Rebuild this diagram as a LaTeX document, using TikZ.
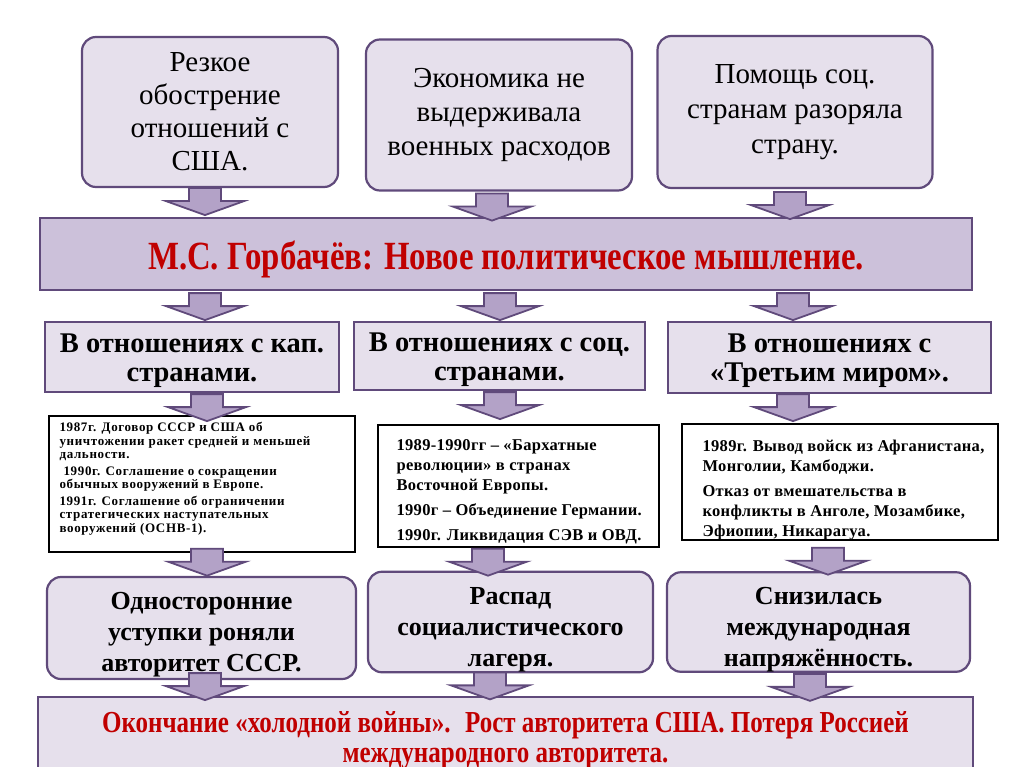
\documentclass[tikz,border=0pt]{standalone}
\usepackage{fontspec}
\setmainfont{Liberation Serif}
\newfontfamily\narrowfont[FakeStretch=0.82]{Liberation Serif Bold}
\usepackage{tikz}
\usetikzlibrary{calc}
\usepackage{xcolor}
\definecolor{plum}{HTML}{604A7B}
\definecolor{lilac}{HTML}{E6E0EC}
\definecolor{lilacdark}{HTML}{CCC1DA}
\definecolor{arrowfill}{HTML}{B3A2C7}
\definecolor{darkred}{HTML}{C00000}
% block arrow under a node: node, x, y offset
\newcommand{\blockarr}[3]{\draw[arr] ($(#2,0 |- #1.south)+(-16,#3)$) -- ++(0,13) -- ++(-23,0) -- ++(39,14) -- ++(39,-14) -- ++(-23,0) -- ++(0,-13) -- cycle;}

\begin{document}
\begin{tikzpicture}[x=1pt,y=-1pt,
  cause/.style={draw=plum,line width=2.2pt,fill=lilac,rounded corners=14pt,inner sep=0pt,align=center},
  frame/.style={draw=plum,line width=2.2pt,fill=lilac,inner sep=0pt,align=center},
  factbox/.style={draw=black,line width=1.3pt,fill=white,inner sep=0pt},
  facts/.style={inner sep=0pt,align=left,font=\bfseries},
  arr/.style={draw=plum,line width=1.8pt,fill=arrowfill,line join=miter}]
\useasboundingbox (0,0) rectangle (1024,767);
\fill[white] (0,0) rectangle (1024,767);

\node[cause,minimum width=256,minimum height=150,font=\fontsize{29}{33}\selectfont] (usa) at (210,112) {Резкое\\обострение\\отношений с\\США.};
\node[cause,minimum width=266,minimum height=151,font=\fontsize{29}{34}\selectfont] (econ) at (499,115) {Экономика не\\выдерживала\\военных расходов};
\node[cause,minimum width=275,minimum height=152,font=\fontsize{29}{35}\selectfont] (aid) at (795,112) {Помощь соц.\\странам разоряла\\страну.};

\node[frame,fill=lilacdark,minimum width=932,minimum height=72,text=darkred,font=\narrowfont\fontsize{40}{40}\selectfont] (gorb) at (506,254)
  {\raisebox{-5pt}[\height][\depth]{М.С. Горбачёв: Новое политическое мышление.}};

\node[frame,minimum width=294,minimum height=70,font=\bfseries\fontsize{28.5}{29}\selectfont] (west) at (192,357) {\rule{0pt}{26pt}В отношениях с кап.\\странами.};
\node[frame,minimum width=291,minimum height=68,font=\bfseries\fontsize{28.5}{29}\selectfont] (east) at (499.5,356) {\rule{0pt}{26pt}В отношениях с соц.\\странами.};
\node[frame,minimum width=323,minimum height=71,font=\bfseries\fontsize{28.5}{29}\selectfont] (third) at (829.5,357.5) {\rule{0pt}{26pt}В отношениях с\\«Третьим миром».};

\node[factbox,minimum width=306,minimum height=136] (westbox) at (202,484) {};
\node[facts,anchor=north west,font=\bfseries\fontsize{13}{13.5}\selectfont\addfontfeatures{LetterSpace=5}] (westfacts) at ($(westbox.north west)+(11,7)$)
  {1987г. Договор СССР и США об\\уничтожении ракет средней и меньшей\\дальности.\\[3pt]\hspace{4pt}1990г. Соглашение о сокращении\\обычных вооружений в Европе.\\[3pt]1991г. Соглашение об ограничении\\стратегических наступательных\\вооружений (ОСНВ-1).};
\node[factbox,minimum width=281,minimum height=122] (eastbox) at (518.5,486) {};
\node[facts,anchor=north west,font=\bfseries\fontsize{16.5}{20}\selectfont\addfontfeatures{LetterSpace=2}] (eastfacts) at ($(eastbox.north west)+(19,15)$)
  {1989-1990гг – «Бархатные\\революции» в странах\\Восточной Европы.\\[5pt]1990г – Объединение Германии.\\[5pt]1990г. Ликвидация СЭВ и ОВД.};
\node[factbox,minimum width=316,minimum height=116] (thirdbox) at (840,482) {};
\node[facts,anchor=north west,font=\bfseries\fontsize{16.5}{20}\selectfont\addfontfeatures{LetterSpace=2}] (thirdfacts) at ($(thirdbox.north west)+(21,16)$)
  {1989г. Вывод войск из Афганистана,\\Монголии, Камбоджи.\\[5pt]Отказ от вмешательства в\\конфликты в Анголе, Мозамбике,\\Эфиопии, Никарагуа.};

\node[cause,minimum width=309,minimum height=102,font=\bfseries\fontsize{26}{31}\selectfont] (westres) at (201.5,628) {\rule{0pt}{30pt}Односторонние\\уступки роняли\\авторитет СССР.};
\node[cause,minimum width=285,minimum height=98,font=\bfseries\fontsize{26}{31}\selectfont] (eastres) at (510.5,622) {\rule{0pt}{33pt}Распад\\социалистического\\лагеря.};
\node[cause,minimum width=303,minimum height=98,font=\bfseries\fontsize{26}{31}\selectfont] (thirdres) at (818.5,622) {\rule{0pt}{32pt}Снизилась\\международная\\напряжённость.};

\node[frame,minimum width=935,minimum height=80,text=darkred,font=\narrowfont\fontsize{30.5}{30}\selectfont] (finale) at (505.5,737)
  {\rule{0pt}{27pt}Окончание «холодной войны».~ Рост авторитета США. Потеря Россией\\международного авторитета.};

\blockarr{usa}{205}{0}
\blockarr{econ}{492}{2}
\blockarr{aid}{790}{3}
\blockarr{gorb}{205}{2}
\blockarr{gorb}{500}{2}
\blockarr{gorb}{793}{2}
\blockarr{west}{207}{1}
\blockarr{east}{500}{1}
\blockarr{third}{793}{0}
\blockarr{westbox}{207}{-4}
\blockarr{eastbox}{488}{1}
\blockarr{thirdbox}{828}{7}
\blockarr{westres}{205}{-7}
\blockarr{eastres}{490}{-1}
\blockarr{thirdres}{810}{1}
\end{tikzpicture}
\end{document}
